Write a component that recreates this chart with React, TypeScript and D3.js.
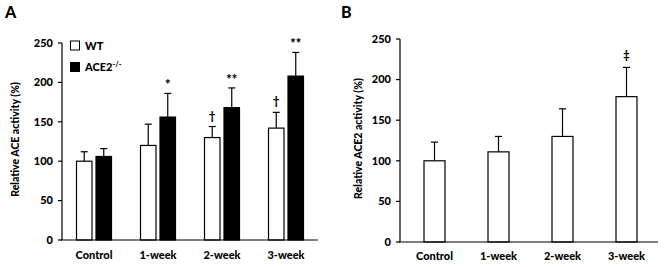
import React from "react";
import * as d3 from "d3";

const categories = ["Control", "1-week", "2-week", "3-week"];
const yTicks = [0, 50, 100, 150, 200, 250];

const wtACE = [100, 120, 130, 142];
const wtACEErr = [112, 147, 144, 162];
const koACE = [106, 156, 168, 208];
const koACEErr = [116, 186, 193, 238];
const wtMarks = ["", "", "†", "†"];
const koMarks = ["", "*", "**", "**"];

const ace2 = [100, 111, 130, 179];
const ace2Err = [123, 130, 164, 215];
const ace2Marks = ["", "", "", "‡"];

const FONT = "Lato, 'Open Sans', sans-serif";

function YAxis({ y, x0, title, titleX }: { y: d3.ScaleLinear<number, number>; x0: number; title: React.ReactNode; titleX: number }) {
  const [r0, r1] = y.range();
  return (
    <g>
      <line x1={x0} x2={x0} y1={r0} y2={r1} stroke="#000" strokeWidth={1.2} />
      {yTicks.map((t) => (
        <g key={t}>
          <line x1={x0 - 4} x2={x0} y1={y(t)} y2={y(t)} stroke="#000" strokeWidth={1.2} />
          <text x={x0 - 9} y={y(t)} dy="0.35em" textAnchor="end" fontSize={11} fontWeight={900}>
            {t}
          </text>
        </g>
      ))}
      <text
        transform={`translate(${titleX},${(r0 + r1) / 2 - 2}) rotate(-90)`}
        textAnchor="middle"
        dy="0.35em"
        fontSize={10.5}
        fontWeight={900}
      >
        {title}
      </text>
    </g>
  );
}

function ErrBar({ x, yTop, yBase }: { x: number; yTop: number; yBase: number }) {
  return (
    <g stroke="#000" strokeWidth={1.2}>
      <line x1={x} x2={x} y1={yBase} y2={yTop} />
      <line x1={x - 3.5} x2={x + 3.5} y1={yTop} y2={yTop} />
    </g>
  );
}

export default function App() {
  // Panel A
  const yA = d3.scaleLinear().domain([0, 250]).range([240, 43]);
  const xA = d3.scaleBand().domain(categories).range([62, 318]);
  const axA0 = 62;
  const bwA = 15.5;
  const offA = 9.75;

  // Panel B
  const yB = d3.scaleLinear().domain([0, 250]).range([242, 39]);
  const xB = d3.scaleBand().domain(categories).range([402.5, 658.5]);
  const axB0 = 400;
  const bwB = 21;

  return (
    <svg width={664} height={267} style={{ position: "absolute", left: 0, top: 0, fontFamily: FONT }}>
      <rect width={664} height={267} fill="#fff" />
      {/* Panel A */}
      <text x={5} y={18} fontSize={16} fontWeight={900}>A</text>
      <YAxis y={yA} x0={axA0} title="Relative ACE activity (%)" titleX={15} />
      {categories.map((c, i) => {
        const cx = xA(c)! + xA.bandwidth() / 2;
        const xw = cx - offA;
        const xk = cx + offA;
        return (
          <g key={c}>
            <ErrBar x={xw} yTop={yA(wtACEErr[i])} yBase={yA(wtACE[i])} />
            <rect x={xw - bwA / 2} y={yA(wtACE[i])} width={bwA} height={yA(0) - yA(wtACE[i])} fill="#fff" stroke="#000" strokeWidth={1.2} />
            <ErrBar x={xk} yTop={yA(koACEErr[i])} yBase={yA(koACE[i])} />
            <rect x={xk - bwA / 2} y={yA(koACE[i])} width={bwA} height={yA(0) - yA(koACE[i])} fill="#000" stroke="#000" strokeWidth={1.2} />
            {wtMarks[i] && (
              <text x={xw} y={yA(wtACEErr[i]) - 7} textAnchor="middle" fontSize={11} fontWeight={900}>{wtMarks[i]}</text>
            )}
            {koMarks[i] && (
              <text x={xk} y={yA(koACEErr[i]) - 4} textAnchor="middle" fontSize={13} fontWeight={900}>{koMarks[i]}</text>
            )}
            <text x={cx} y={259} textAnchor="middle" fontSize={11} fontWeight={900}>{c}</text>
          </g>
        );
      })}
      <line x1={axA0 - 1} x2={318} y1={yA(0)} y2={yA(0)} stroke="#000" strokeWidth={1.2} />
      {/* Legend */}
      <rect x={70.5} y={41} width={9} height={9} fill="#fff" stroke="#000" strokeWidth={1} />
      <text x={85} y={49.5} fontSize={11} fontWeight={900}>WT</text>
      <rect x={70.5} y={62.5} width={9} height={9} fill="#000" stroke="#000" strokeWidth={1} />
      <text x={85} y={71} fontSize={11} fontWeight={900}>
        ACE2<tspan fontSize={7.5} dy={-4.5}>-/-</tspan>
      </text>

      {/* Panel B */}
      <text x={341} y={18} fontSize={16} fontWeight={900}>B</text>
      <YAxis y={yB} x0={axB0} title="Relative ACE2 activity (%)" titleX={358} />
      {categories.map((c, i) => {
        const cx = xB(c)! + xB.bandwidth() / 2;
        return (
          <g key={c}>
            <ErrBar x={cx} yTop={yB(ace2Err[i])} yBase={yB(ace2[i])} />
            <rect x={cx - bwB / 2} y={yB(ace2[i])} width={bwB} height={yB(0) - yB(ace2[i])} fill="#fff" stroke="#000" strokeWidth={1.2} />
            {ace2Marks[i] && (
              <text x={cx} y={yB(ace2Err[i]) - 8} textAnchor="middle" fontSize={11} fontWeight={900}>{ace2Marks[i]}</text>
            )}
            <text x={cx} y={260} textAnchor="middle" fontSize={11} fontWeight={900}>{c}</text>
          </g>
        );
      })}
      <line x1={axB0 - 1} x2={658} y1={yB(0)} y2={yB(0)} stroke="#000" strokeWidth={1.2} />
    </svg>
  );
}
